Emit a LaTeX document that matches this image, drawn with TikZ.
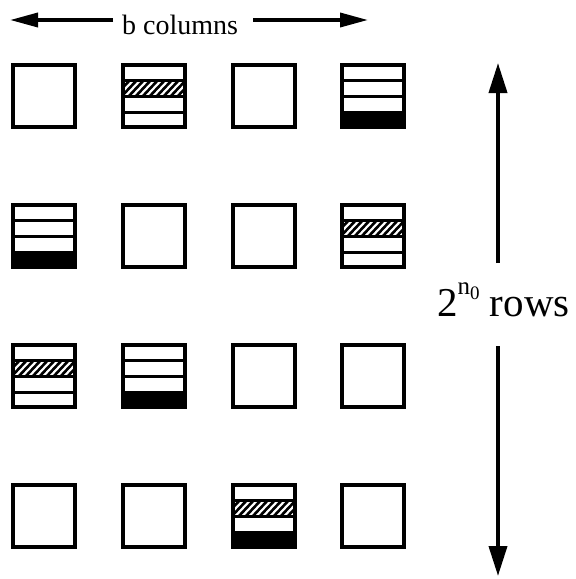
\documentclass[tikz,border=0pt]{standalone}
\usepackage{fontspec}
\setmainfont{Liberation Serif}
\usetikzlibrary{arrows.meta}
\begin{document}
\begin{tikzpicture}[x=1pt,y=-1pt,
  cellbox/.style={draw, line width=4.4pt, minimum size=61.6pt, inner sep=0pt, outer sep=0pt},
  sepline/.style={line width=3pt},
  hatchline/.style={line width=2.6pt},
  harr/.style={line width=3.6pt, -{Triangle[length=28pt,width=14pt]}},
  varr/.style={line width=3.8pt, -{Triangle[length=30pt,width=18pt]}},
  lbl/.style={inner sep=0pt, anchor=base west}]
\useasboundingbox (0,0) rectangle (576,579);
% kind: 0 empty, 1 hatch band, 2 black band, 3 hatch + black
\foreach \r/\y/\kinds in {1/63/{0,1,0,2}, 2/203/{2,0,0,1}, 3/343/{1,2,0,0}, 4/483/{0,0,3,0}}{
  \foreach \k [count=\c] in \kinds {
    \pgfmathsetmacro{\x}{{11,121,231,340}[\c-1]}
    \ifnum\k>1
      \fill (\x,\y+48) rectangle (\x+66,\y+66);
    \fi
    \ifodd\k
      \begin{scope}
        \clip (\x+3,\y+17) rectangle (\x+63,\y+33);
        \foreach \d in {-21,-14,...,70}
          \draw[hatchline] (\x+\d,\y+34) -- (\x+\d+17,\y+16);
      \end{scope}
    \fi
    \ifnum\k>0
      \foreach \s in {17,33,49}
        \draw[sepline] (\x,\y+\s) -- (\x+66,\y+\s);
    \fi
    \node[cellbox] (c\r-\c) at (\x+33,\y+33) {};
  }
}
% top label and arrows
\node[lbl] (bcol) at (122,34) {\fontsize{28}{28}\selectfont b columns};
\coordinate (lstart) at (113,20);
\coordinate (ltip) at (10,20);
\coordinate (rstart) at (253,20);
\coordinate (rtip) at (368,20);
\draw[harr] (lstart) -- (ltip);
\draw[harr] (rstart) -- (rtip);
% right label and arrows
\node[lbl] (rows) at (437,316) {\fontsize{41}{41}\selectfont 2\raisebox{22pt}{\fontsize{25}{25}\selectfont n\raisebox{-5pt}{\fontsize{19}{19}\selectfont 0}} rows};
\coordinate (ustart) at (498,263);
\coordinate (utip) at (498,63);
\coordinate (dstart) at (498,346);
\coordinate (dtip) at (498,576);
\draw[varr] (ustart) -- (utip);
\draw[varr] (dstart) -- (dtip);
\end{tikzpicture}
\end{document}
